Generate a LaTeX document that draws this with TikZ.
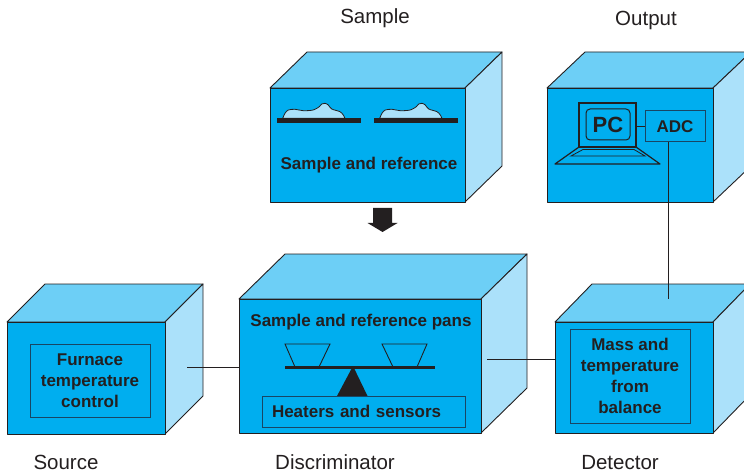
\documentclass[tikz,border=0pt]{standalone}
\usepackage{fontspec}
\setmainfont{Liberation Sans}
\usepackage{tikz}
\usetikzlibrary{positioning}

\definecolor{frontblue}{RGB}{0,174,239}
\definecolor{topblue}{RGB}{109,207,246}
\definecolor{sideblue}{RGB}{171,225,250}
\definecolor{ink}{RGB}{35,31,32}
\definecolor{edgeblue}{RGB}{24,70,100}

\newcommand{\lblfont}{\fontsize{20.5}{24}\selectfont}
\newcommand{\bxfont}{\fontsize{17}{21}\selectfont\bfseries}

\tikzset{face/.style = {draw = ink, line width = 0.9pt, line join = round}}
\tikzset{inbox/.style = {draw = edgeblue, line width = 1pt, font = \bxfont,
                         text = ink, align = center, inner sep = 0}}
\tikzset{caption/.style = {font = \lblfont, text = ink, inner sep = 1pt}}
\tikzset{wire/.style = {draw = ink, line width = 0.8pt}}

% box with front corner (#1,#2), size #3 x #4, depth (#5,#6)
\newcommand{\cuboid}[6]{%
  \filldraw [face, fill = topblue] (#1,#2) -- ++(#5,-#6) -- ++(#3,0) -- ++(-#5,#6) -- cycle;
  \filldraw [face, fill = sideblue] (#1+#3,#2) -- ++(#5,-#6) -- ++(0,#4) -- ++(-#5,#6) -- cycle;
  \filldraw [face, fill = frontblue] (#1,#2) rectangle ++(#3,#4);}

\begin{document}
\begin{tikzpicture}[x=1pt, y=-1pt]
    \useasboundingbox (0,0) rectangle (744,473);

    \cuboid{7}{322}{158}{112}{38}{38}
    \cuboid{270}{88}{195}{114}{37}{36}
    \cuboid{547}{88}{166}{114}{38}{36}
    \cuboid{239}{299}{242}{134}{46}{45}
    \cuboid{555}{322}{158}{111}{37}{38}

    % sample and reference on their plates
    \foreach \dx in {0, 97} {
      \begin{scope}[xshift = \dx pt]
        \filldraw [draw = ink, fill = sideblue, line width = 0.8pt]
          plot [smooth] coordinates {(282.7,118.3) (285,113.3) (288.3,110) (295,109.3)
            (303.3,110.7) (313.3,110) (319.3,106.7) (321.7,104) (325,103.3) (328.3,105)
            (331.7,109) (340,111.7) (343.3,115) (345,118.3)} -- cycle;
      \end{scope}
    }
    \fill [ink] (277,118) rectangle (361,123);
    \fill [ink] (374,118) rectangle (458,123);
    \node [font = \bxfont, text = ink] (pair) at (369,165) {Sample and reference};
    \fill [ink] (373,208) -- (392,208) -- (392,223) -- (397.5,223) -- (382.5,232)
      -- (367.5,223) -- (373,223) -- cycle;

    % computer and converter
    \node [draw = ink, line width = 1.5pt, minimum width = 57, minimum height = 44,
           inner sep = 0] (monitor) at (607.5,125) {};
    \node [draw = ink, line width = 1pt, rounded corners = 4pt, minimum width = 44,
           minimum height = 31, inner sep = 0, font = \fontsize{22}{24}\selectfont\bfseries,
           text = ink] (pc) at (608,124.5) {PC};
    \draw [ink, line width = 1.2pt, line join = round]
      (579,147) -- (636,147) -- (660,164) -- (555,164) -- cycle;
    \draw [ink, line width = 0.8pt] (583,149.5) -- (634,149.5) -- (645,156) -- (571,156) -- cycle;
    \node [inbox, minimum width = 60, minimum height = 31] (adc) at (675,126.5) {ADC};

    % balance
    \node [font = \bxfont, text = ink] (pans) at (361,322) {Sample and reference pans};
    \draw [ink, line width = 0.9pt] (285,344) -- (330,344) -- (319,367) -- (295,367) -- cycle;
    \draw [ink, line width = 0.9pt] (382,344) -- (427,344) -- (417,367) -- (393,367) -- cycle;
    \draw [ink, line width = 3pt] (285,367) -- (435,367);
    \fill [ink] (353,366) -- (367.5,396) -- (337,396) -- cycle;
    \node [inbox, minimum width = 203, minimum height = 31, text width = 183,
           align = left, inner xsep = 10pt] (heaters) at (363.5,411.5) {Heaters and sensors};

    \node [inbox, minimum width = 120, minimum height = 73] (furnace) at (90,380.5)
      {Furnace\\temperature\\control};
    \node [inbox, minimum width = 120, minimum height = 94] (mass) at (630,376)
      {Mass and\\temperature\\from\\balance};

    % connections
    \coordinate (src out) at (187,367);
    \coordinate (disc in) at (239,367);
    \coordinate (disc out) at (487,359);
    \coordinate (det in) at (555,359);
    \coordinate (det top) at (668,299);
    \draw [wire] (src out) -- (disc in);
    \draw [wire] (disc out) -- (det in);
    \draw [wire] (det top |- adc.south) -- (det top);
    \draw [wire] (monitor.east |- adc.west) -- (adc.west);

    \node [caption] (sample) at (375,18) {Sample};
    \node [caption] (output) at (646,20) {Output};
    \node [caption] (source) at (66,462.5) {Source};
    \node [caption] (discr) at (335,462.5) {Discriminator};
    \node [caption] (detector) at (620,462.5) {Detector};
\end{tikzpicture}
\end{document}
